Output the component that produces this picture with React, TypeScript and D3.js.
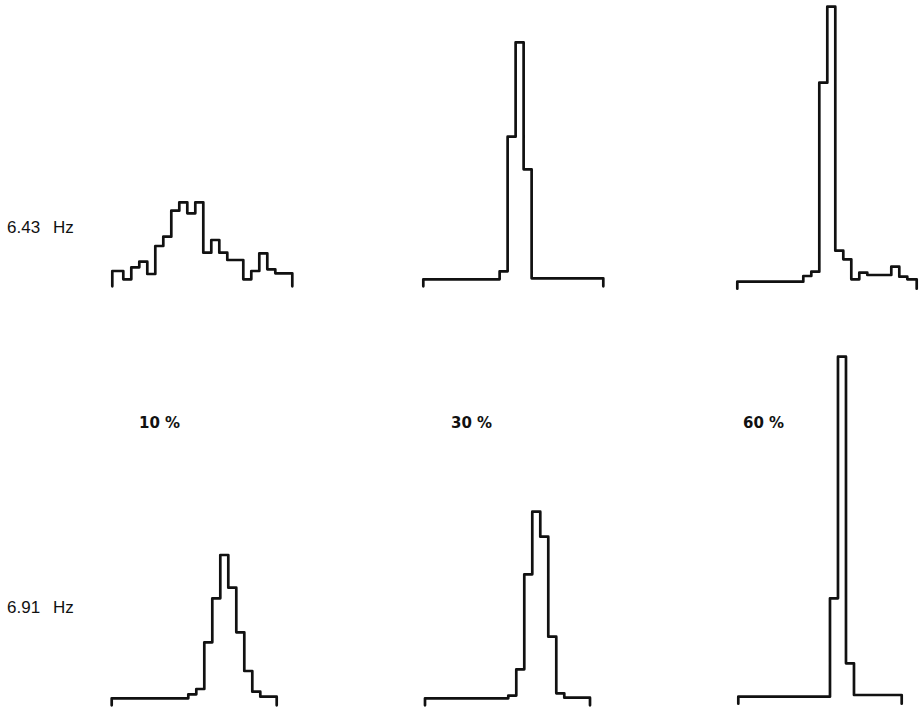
import React from "react";
import * as d3 from "d3";

// Histogram bin heights (arbitrary count units), one value per bin
const top10 = [8.3, 0, 12, 17.6, 5.3, 33.3, 42.6, 68.6, 77, 66, 77, 26.6, 39.3, 26.6, 19.3, 19.3, 0, 8.3, 26, 10, 6, 6];
const top30 = [0, 0, 0, 0, 0, 0, 0, 0, 0, 8, 142.6, 237, 110, 1, 1, 1, 1, 1, 1, 1, 1, 1];
const top60 = [0, 0, 0, 0, 0, 0, 0, 0, 5.7, 10, 199, 275, 31, 22.4, 2.4, 9, 6.7, 6.7, 6.7, 15, 5, 2.4];
const bot10 = [0, 0, 0, 0, 0, 0, 0, 0, 0, 4, 9.3, 56, 100, 143.3, 110.6, 66, 27.3, 6.6, 1.6, 1.6];
const bot30 = [0, 0, 0, 0, 0, 0, 0, 0, 0, 0, 2.7, 29, 124, 186.6, 161.6, 61.6, 5, 0.6, 0.6, 0.6];
const bot60 = [0, 0, 0, 0, 0, 0, 0, 0, 0, 0, 0, 98.4, 340, 33.4, 1.7, 1.7, 1.7, 1.7, 1.7, 1.7];

const rowLabels = ["6.43", "6.91"];
const rowUnit = "Hz";
const colLabels = ["10 %", "30 %", "60 %"];

// layout (pixels)
const BIN_PX = 8;
const panels = [
  { values: top10, left: 112.3, length: 180, baseline: 279.3, start: -0.375 },
  { values: top30, left: 423.3, length: 180, baseline: 279.3, start: -0.54 },
  { values: top60, left: 737.3, length: 179.4, baseline: 281.7, start: -0.25 },
  { values: bot10, left: 111.7, length: 165, baseline: 698.3, start: -0.575 },
  { values: bot30, left: 425, length: 165, baseline: 698.3, start: -0.41 },
  { values: bot60, left: 738.3, length: 163.4, baseline: 696.7, start: -0.46 },
];

function panelPath(p: any) {
  const end = p.start + p.length / BIN_PX;
  const x = d3.scaleLinear().domain([p.start, end]).range([p.left, p.left + p.length]);
  const y = d3.scaleLinear().domain([0, 100]).range([p.baseline, p.baseline - 100]);
  const n = p.values.length;
  const pts: [number, number][] = [];
  pts.push([x(p.start), p.baseline + 7]);
  for (let i = 0; i < n; i++) {
    const e0 = i === 0 ? p.start : i;
    const e1 = i === n - 1 ? end : i + 1;
    pts.push([x(e0), y(p.values[i])]);
    pts.push([x(e1), y(p.values[i])]);
  }
  pts.push([x(end), p.baseline + 7]);
  return d3.line()(pts) as string;
}

export default function App() {
  const rowBase = [233.3, 613.4];
  const colX = [139, 451, 743];
  return (
    <div style={{ position: "absolute", left: 0, top: 0 }}>
      <svg width={920} height={710} style={{ display: "block", background: "#fff" }}>
        <rect width={920} height={710} fill="#fff" />
        {panels.map((p, i) => (
          <path
            key={i}
            d={panelPath(p)}
            fill="none"
            stroke="#111"
            strokeWidth={2.7}
            strokeLinejoin="round"
            strokeLinecap="round"
          />
        ))}
        {rowLabels.map((l, i) => (
          <g key={l} fontFamily="'Liberation Sans', Arial, sans-serif" fontSize={17} fill="#111">
            <text x={7} y={rowBase[i]}>{l}</text>
            <text x={53} y={rowBase[i]}>{rowUnit}</text>
          </g>
        ))}
        {colLabels.map((l, i) => (
          <text
            key={l}
            x={colX[i]}
            y={428.3}
            fontFamily="'DejaVu Sans', sans-serif"
            fontWeight="bold"
            fontSize={15}
            fill="#111"
          >
            {l}
          </text>
        ))}
      </svg>
    </div>
  );
}
